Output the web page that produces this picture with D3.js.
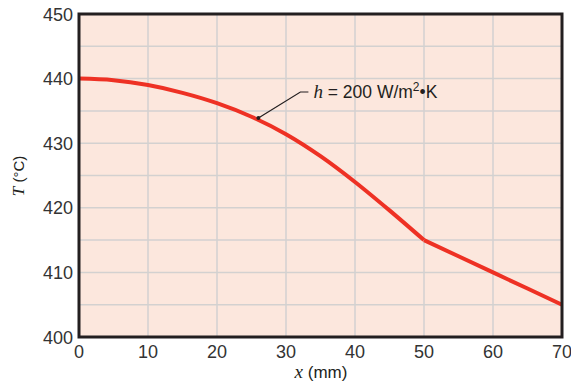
<!DOCTYPE html>
<html><head><meta charset="utf-8">
<script src="https://cdn.jsdelivr.net/npm/d3@7"></script>
<style>body{margin:0;background:#fff}svg{display:block}</style>
</head><body>
<script>
const xValues = [0, 5, 10, 15, 20, 25, 30, 35, 40, 45, 50, 55, 60, 65, 70];
const tValues = [440, 439.75, 439.0, 437.8, 436.2, 434.1, 431.4, 428.0, 424.0, 419.6, 415, 412.5, 410, 407.5, 405];
const xTicks = [0, 10, 20, 30, 40, 50, 60, 70];
const yTicks = [400, 410, 420, 430, 440, 450];
const yGrid = [405, 410, 415, 420, 425, 430, 435, 440, 445];
const labelX = 26;

const W = 571, H = 383;
const m = {l: 79, r: 9, t: 14, b: 46};
const svg = d3.select("body").append("svg").attr("width", W).attr("height", H);
const x = d3.scaleLinear().domain([0, 70]).range([m.l, W - m.r]);
const y = d3.scaleLinear().domain([400, 450]).range([H - m.b, m.t]);

svg.append("rect").attr("x", x(0)).attr("y", y(450)).attr("width", x(70) - x(0)).attr("height", y(400) - y(450)).attr("fill", "#fce7dd");

svg.append("g").selectAll("line").data(xTicks.slice(1, -1)).join("line")
  .attr("x1", d => x(d)).attr("x2", d => x(d)).attr("y1", y(450)).attr("y2", y(400))
  .attr("stroke", "#d3d1d0").attr("stroke-width", 1.5);
svg.append("g").selectAll("line").data(yGrid).join("line")
  .attr("y1", d => y(d)).attr("y2", d => y(d)).attr("x1", x(0)).attr("x2", x(70))
  .attr("stroke", "#d3d1d0").attr("stroke-width", 1.5);

const pts = xValues.map((v, i) => [v, tValues[i]]);
const split = xValues.indexOf(50);
const curve1 = d3.line().x(d => x(d[0])).y(d => y(d[1])).curve(d3.curveMonotoneX);
const curve2 = d3.line().x(d => x(d[0])).y(d => y(d[1])).curve(d3.curveLinear);
const g = svg.append("g").attr("fill", "none").attr("stroke", "#ee3124").attr("stroke-width", 4).attr("stroke-linejoin", "round");
g.append("path").attr("d", curve1(pts.slice(0, split + 1)));
g.append("path").attr("d", curve2(pts.slice(split)));

svg.append("rect").attr("x", x(0)).attr("y", y(450)).attr("width", x(70) - x(0)).attr("height", y(400) - y(450))
  .attr("fill", "none").attr("stroke", "#231f20").attr("stroke-width", 3);

// annotation
const px = x(labelX), py = y(433.9);
svg.append("circle").attr("cx", px).attr("cy", py).attr("r", 2).attr("fill", "#231f20");
svg.append("polyline").attr("points", `${px},${py} ${px + 42},${py - 26} ${px + 50},${py - 26}`)
  .attr("fill", "none").attr("stroke", "#231f20").attr("stroke-width", 1.2);
const ann = svg.append("text").attr("x", px + 55).attr("y", py - 20).attr("font-family", "Liberation Sans, Arial, sans-serif")
  .attr("font-size", 17.5).attr("fill", "#231f20");
ann.append("tspan").attr("font-family", "Liberation Serif, Times New Roman, serif").attr("font-style", "italic").attr("font-size", 19).text("h");
ann.append("tspan").text(" = 200 W/m");
ann.append("tspan").attr("font-size", 12).attr("dy", -7).text("2");
ann.append("tspan").attr("dy", 7).text("•K");

// tick labels
svg.append("g").selectAll("text").data(yTicks).join("text")
  .attr("x", x(0) - 6).attr("y", d => y(d) + 6.5).attr("text-anchor", "end")
  .attr("font-family", "Liberation Sans, Arial, sans-serif").attr("font-size", 18).attr("fill", "#333").text(d => d);
svg.append("g").selectAll("text").data(xTicks).join("text")
  .attr("x", d => x(d)).attr("y", y(400) + 21).attr("text-anchor", "middle")
  .attr("font-family", "Liberation Sans, Arial, sans-serif").attr("font-size", 18).attr("fill", "#333").text(d => d);

const xt = svg.append("text").attr("x", 321).attr("y", 378).attr("text-anchor", "middle")
  .attr("font-family", "Liberation Sans, Arial, sans-serif").attr("font-size", 17).attr("fill", "#231f20");
xt.append("tspan").attr("font-family", "Liberation Serif, serif").attr("font-style", "italic").attr("font-size", 19).text("x");
xt.append("tspan").text(" (mm)");

const yt = svg.append("text").attr("transform", "translate(24,176) rotate(-90)").attr("text-anchor", "middle")
  .attr("font-family", "Liberation Sans, Arial, sans-serif").attr("font-size", 15).attr("fill", "#231f20");
yt.append("tspan").attr("font-family", "Liberation Serif, serif").attr("font-style", "italic").attr("font-size", 17).text("T");
yt.append("tspan").text(" (°C)");
</script>
</body></html>
